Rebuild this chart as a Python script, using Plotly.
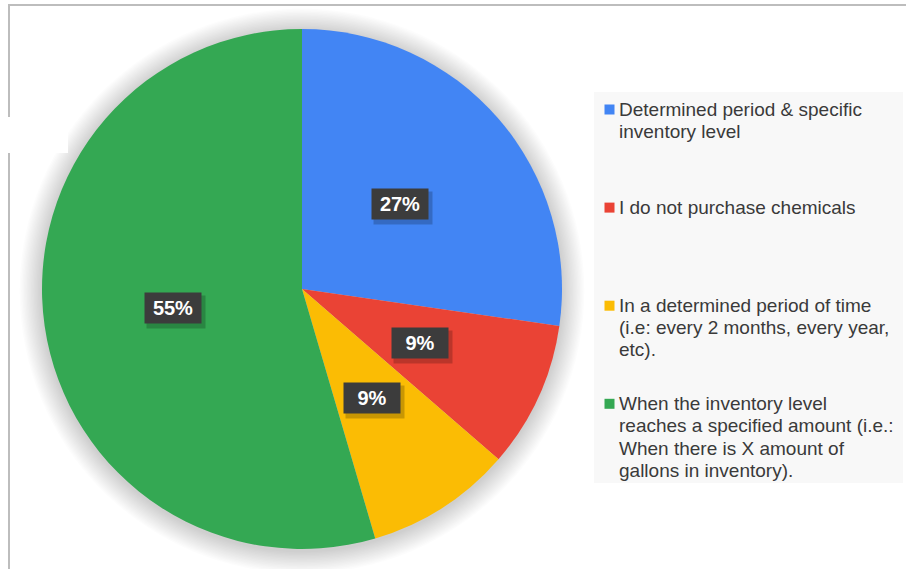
import math
import plotly.graph_objects as go

# Survey answers: how chemicals are purchased
labels = [
    "Determined period & specific<br>inventory level",
    "I do not purchase chemicals",
    "In a determined period of time<br>(i.e: every 2 months, every year,<br>etc).",
    "When the inventory level<br>reaches a specified amount (i.e.:<br>When there is X amount of<br>gallons in inventory).",
]
responses = [3, 1, 1, 6]
colors = ["#4285F4", "#EA4335", "#FBBC04", "#34A853"]

W, H = 906, 569
CX, CY, R = 302, 289, 260


def fx(x):
    return x / W


def fy(y):
    return 1 - y / H


fig = go.Figure(
    go.Pie(
        labels=[l.replace("<br>", " ") for l in labels],
        values=responses,
        marker=dict(colors=colors, line=dict(width=0)),
        sort=False,
        direction="clockwise",
        rotation=0,
        textinfo="none",
        hoverinfo="label+percent",
        showlegend=False,
        domain=dict(x=[fx(CX - R), fx(CX + R)], y=[fy(CY + R), fy(CY - R)]),
    )
)

shapes = []
# soft shadow around the pie
for k in range(16, 0, -1):
    r = R + k * 1.4
    shapes.append(dict(
        type="circle", xref="paper", yref="paper", layer="below",
        x0=fx(CX - r), x1=fx(CX + r), y0=fy(CY + 2 + r), y1=fy(CY + 2 - r),
        fillcolor="rgba(0,0,0,0.011)", line=dict(width=0),
    ))

# frame lines
shapes.append(dict(type="line", xref="paper", yref="paper", x0=fx(8), x1=1,
                   y0=fy(5), y1=fy(5), line=dict(color="#bdbdbd", width=2)))
shapes.append(dict(type="line", xref="paper", yref="paper", x0=fx(9), x1=fx(9),
                   y0=fy(4), y1=0, line=dict(color="#bdbdbd", width=2)))
shapes.append(dict(type="rect", xref="paper", yref="paper", x0=0, x1=fx(68),
                   y0=fy(153), y1=fy(117), fillcolor="white", line=dict(width=0),
                   layer="above"))

# legend panel
shapes.append(dict(type="rect", xref="paper", yref="paper", x0=fx(594), x1=fx(903),
                   y0=fy(483), y1=fy(92), fillcolor="#f8f8f8", line=dict(width=0),
                   layer="below"))

annotations = []
total = sum(responses)
cum = 0
for v in responses:
    mid = (cum + v / 2) / total * 2 * math.pi
    cum += v
    x = CX + 0.5 * R * math.sin(mid)
    y = CY - 0.5 * R * math.cos(mid)
    pct = f"{round(100 * v / total)}%"
    # label shadow
    annotations.append(dict(
        x=fx(x), y=fy(y), xref="paper", yref="paper", showarrow=False,
        xanchor="center", yanchor="middle",
        text=pct, font=dict(family="Arial, Liberation Sans", size=20, color="rgba(0,0,0,0)"),
        bgcolor="rgba(0,0,0,0.2)", width=58, height=32, borderpad=0,
        xshift=3, yshift=-4,
    ))
    annotations.append(dict(
        x=fx(x), y=fy(y), xref="paper", yref="paper", showarrow=False,
        xanchor="center", yanchor="middle",
        text=f"<b>{pct}</b>", font=dict(family="Arial, Liberation Sans", size=20, color="white"),
        bgcolor="#3c3c3c", width=56, height=30, borderpad=0,
    ))

# legend entries
for i, (lab, col) in enumerate(zip(labels, colors)):
    base = 116 + 98.1 * i
    shapes.append(dict(type="rect", xref="paper", yref="paper",
                       x0=fx(604.5), x1=fx(614.5), y0=fy(base - 1.5), y1=fy(base - 11.5),
                       fillcolor=col, line=dict(width=0)))
    for j, line in enumerate(lab.split("<br>")):
        annotations.append(dict(
            x=fx(617), y=fy(base + 22.2 * j - 6.6), xref="paper", yref="paper",
            xanchor="left", yanchor="middle", showarrow=False, text=line,
            font=dict(family="Arial, Liberation Sans", size=19, color="#3a3a3a"),
        ))

fig.update_layout(
    width=W, height=H,
    margin=dict(l=0, r=0, t=0, b=0),
    paper_bgcolor="white", plot_bgcolor="white",
    shapes=shapes, annotations=annotations,
)

fig.write_html("out.html")
